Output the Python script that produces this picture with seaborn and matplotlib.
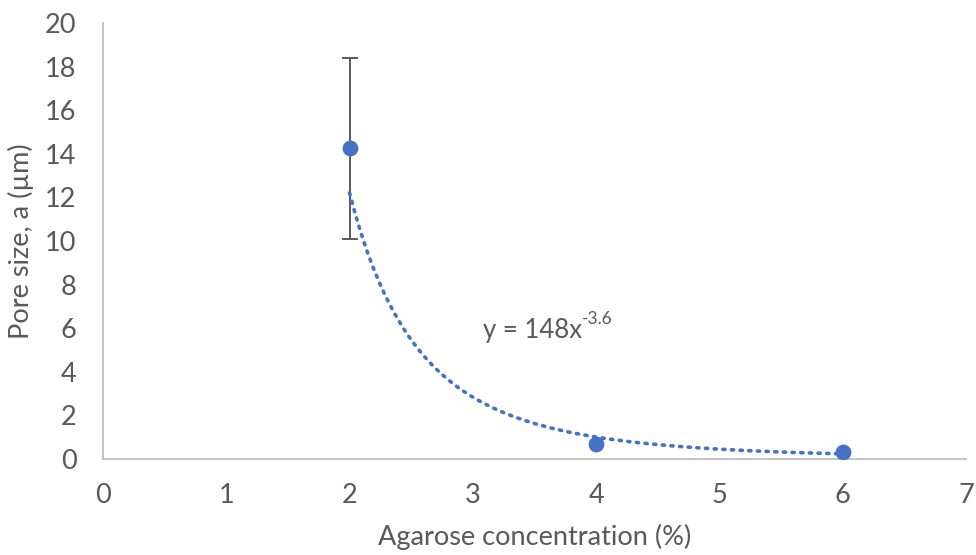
import numpy as np
import pandas as pd
import matplotlib
matplotlib.use("Agg")
import matplotlib.pyplot as plt
import seaborn as sns

# --- Data ---
agarose = [2, 4, 6]              # Agarose concentration (%)
pore_size = [14.25, 0.7, 0.3]    # Pore size, a (um)
pore_err = [4.15, 0.0, 0.0]      # symmetric error (only first point visible)
fit_coef = 148
fit_exp = -3.6

blue = "#4472C4"
grey = "#595959"

sns.set_theme(style="white")
plt.rcParams["font.family"] = ["Lato", "DejaVu Sans"]

fig = plt.figure(figsize=(9.76, 5.55), dpi=100)
ax = fig.add_axes([0.1055, 0.173, 0.8843, 0.7856])

# power-law trend line (dotted)
x_fit = np.linspace(min(agarose), max(agarose), 200)
trend = pd.DataFrame({"x": x_fit, "y": fit_coef * x_fit ** fit_exp})
sns.lineplot(data=trend, x="x", y="y", ax=ax, color=blue, lw=2.6,
             linestyle=(0, (0.6, 1.8)), dash_capstyle="round", zorder=2)

# error bar
for xv, yv, ev in zip(agarose, pore_size, pore_err):
    if ev > 0:
        ax.errorbar(xv, yv, yerr=ev, fmt="none", ecolor=grey, elinewidth=1.4,
                    capsize=6, capthick=1.4, zorder=1)

df = pd.DataFrame({"conc": agarose, "pore": pore_size})
sns.scatterplot(data=df, x="conc", y="pore", ax=ax, color=blue, s=130,
                edgecolor=blue, linewidth=0, zorder=3)

ax.set_xlim(0, 7)
ax.set_ylim(0, 20)
ax.set_xticks(range(0, 8))
ax.set_yticks(range(0, 21, 2))
ax.tick_params(axis="both", length=0, labelsize=19.5, labelcolor=grey)
ax.tick_params(axis="y", pad=19)
ax.tick_params(axis="x", pad=17)

for side in ["top", "right"]:
    ax.spines[side].set_visible(False)
for side in ["left", "bottom"]:
    ax.spines[side].set_color("#BFBFBF")
    ax.spines[side].set_linewidth(1.3)

ax.set_xlabel("Agarose concentration (%)", fontsize=19.5, color=grey, labelpad=12)
ax.set_ylabel("Pore size, a (µm)", fontsize=19.5, color=grey, labelpad=8)

eq = ax.text(3.08, 5.9, f"y = {fit_coef}x", fontsize=18.5,
             color=grey, va="center", ha="left")
ax.annotate(f"{fit_exp}", xy=(1.0, 0.62), xycoords=eq, fontsize=12.5,
            color=grey, va="bottom", ha="left")

fig.savefig("out.png", dpi=100)
